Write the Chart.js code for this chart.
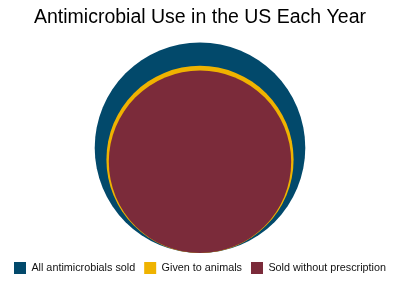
<!DOCTYPE html>
<html>
<head>
<meta charset="utf-8">
<script src="https://cdn.jsdelivr.net/npm/chart.js@4"></script>
<style>
  html, body { margin: 0; padding: 0; background: #fff; }
  #wrap { width: 400px; height: 287px; }
</style>
</head>
<body>
<div id="wrap"><canvas id="chart"></canvas></div>
<script>
const labels = ['All antimicrobials sold', 'Given to animals', 'Sold without prescription'];
const amounts = [100, 79, 75];   // relative share of all antimicrobials sold
const colors = ['#02496b', '#efb300', '#7b2b3a'];

const maxAmount = Math.max(...amounts);

// y is the radius in units of half the plot height, so each circle
// sits on the bottom of the plot; area follows the amount
const datasets = labels.map((label, i) => ({
  label: label,
  data: [{ x: 0, y: Math.sqrt(amounts[i] / maxAmount) }],
  backgroundColor: colors[i],
  borderWidth: 0,
  order: 3 - i,
  hoverRadius: 0,
  clip: false
}));

// once the plot size is known, give each bubble its radius in pixels
const sizeCircles = {
  id: 'sizeCircles',
  afterLayout(chart) {
    const half = chart.chartArea.height / 2;
    chart.data.datasets.forEach((ds, i) => {
      const meta = chart.getDatasetMeta(i);
      (meta._parsed || []).forEach(p => { p._custom = p.y * half; });
    });
  }
};

new Chart(document.getElementById('chart'), {
  type: 'bubble',
  data: { datasets: datasets },
  plugins: [sizeCircles],
  options: {
    responsive: true,
    maintainAspectRatio: false,
    animation: false,
    layout: { padding: { top: 0, bottom: 3, left: 0, right: 0 } },
    scales: {
      x: { display: false, min: -1, max: 1 },
      y: { display: false, min: 0, max: 2 }
    },
    plugins: {
      title: {
        display: true,
        text: 'Antimicrobial Use in the US Each Year',
        color: '#000',
        font: { family: 'Liberation Sans, Arial, sans-serif', size: 19.5, weight: 'normal' },
        padding: { top: 6, bottom: 13 }
      },
      legend: {
        position: 'bottom',
        labels: {
          sort: (a, b) => a.datasetIndex - b.datasetIndex,
          color: '#111',
          boxWidth: 12,
          boxHeight: 12,
          padding: 9,
          font: { family: 'Liberation Sans, Arial, sans-serif', size: 10.8 }
        }
      },
      tooltip: { enabled: false }
    }
  }
});
</script>
</body>
</html>
